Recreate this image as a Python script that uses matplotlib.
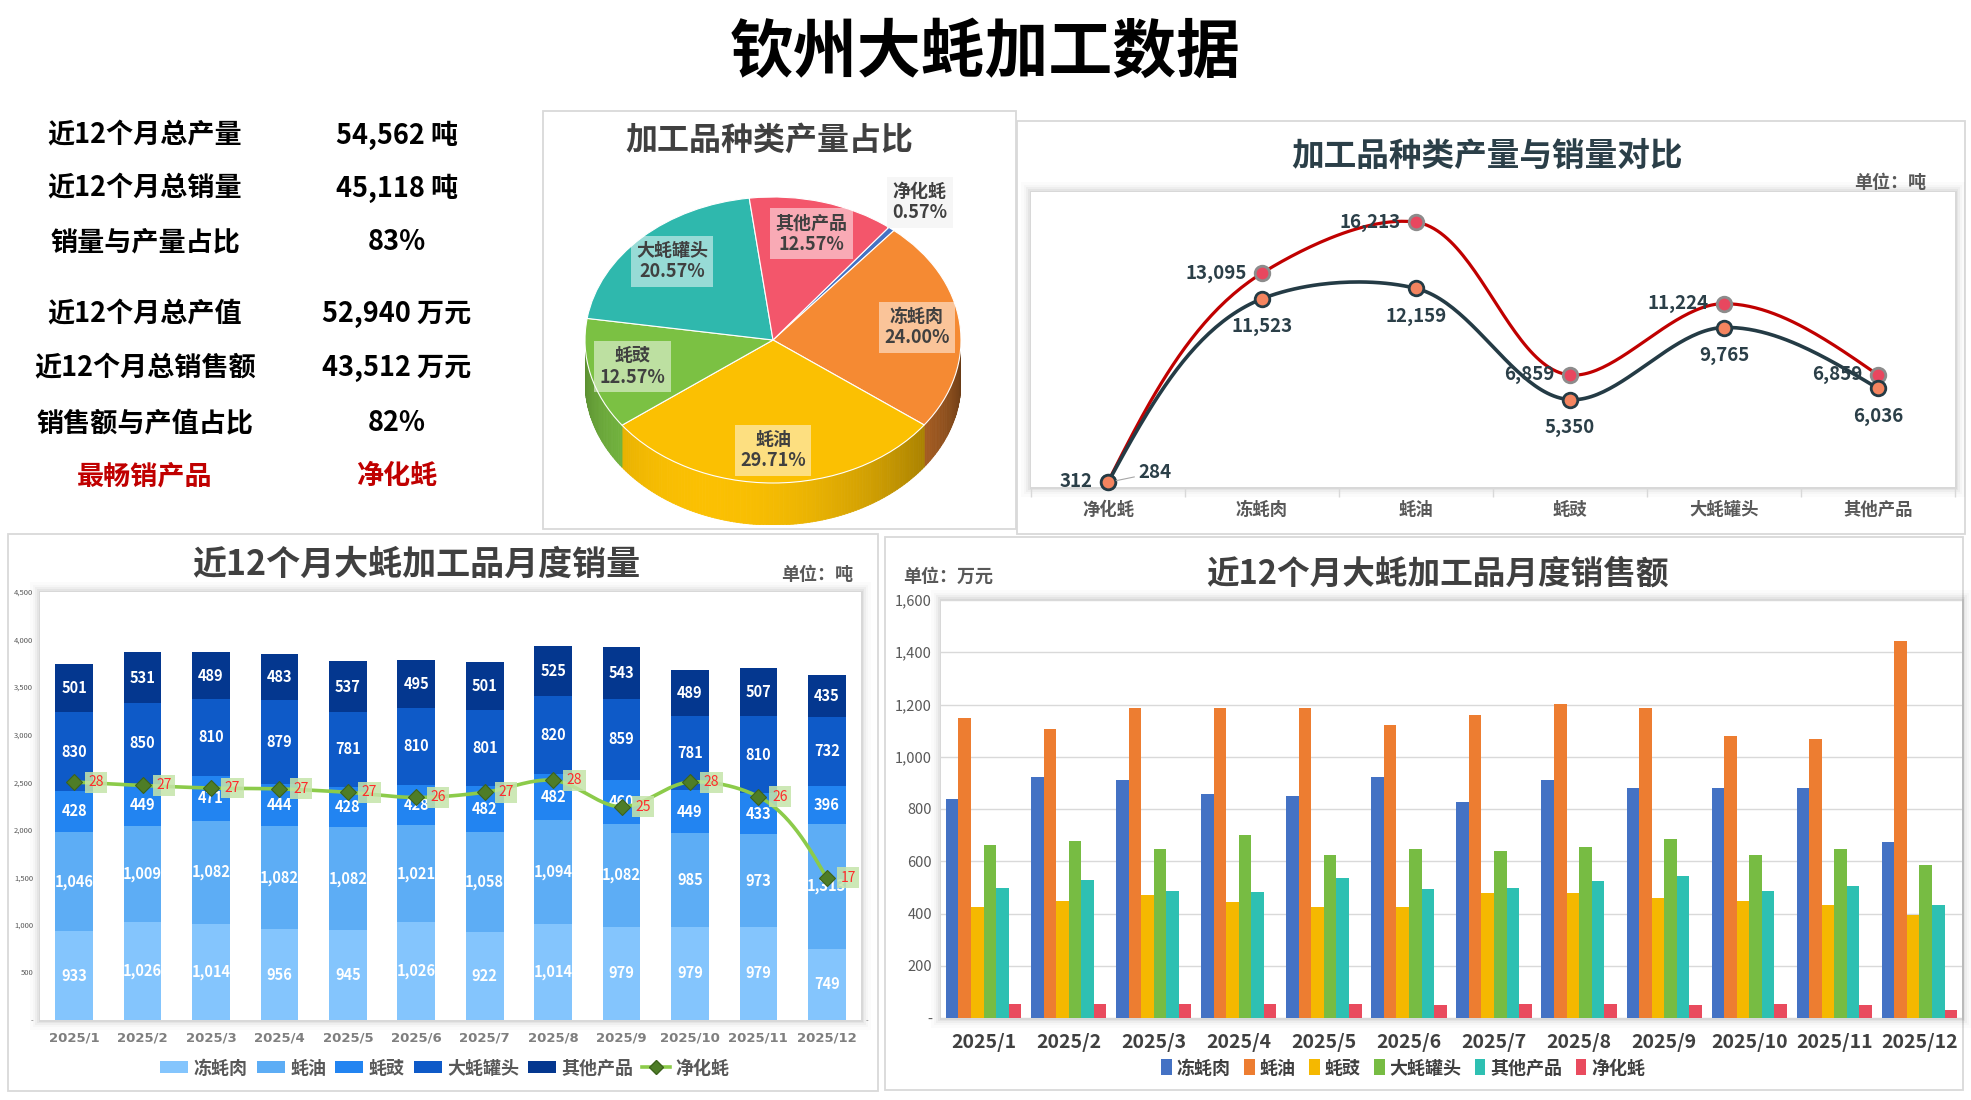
import numpy as np
import matplotlib
matplotlib.use('Agg')
import matplotlib.pyplot as plt
from matplotlib.patches import Rectangle, Patch
from matplotlib.collections import PolyCollection
from matplotlib.lines import Line2D
from matplotlib.colors import to_rgb

plt.rcParams['font.family'] = ['Noto Sans CJK SC', 'DejaVu Sans']
plt.rcParams['axes.unicode_minus'] = False

# ---------------- data ----------------
main_title = '钦州大蚝加工数据'
kpi_labels = ['近12个月总产量', '近12个月总销量', '销量与产量占比',
              '近12个月总产值', '近12个月总销售额', '销售额与产值占比', '最畅销产品']
kpi_values = ['54,562 吨', '45,118 吨', '83%', '52,940 万元', '43,512 万元', '82%', '净化蚝']

products = ['净化蚝', '冻蚝肉', '蚝油', '蚝豉', '大蚝罐头', '其他产品']
production = [312, 13095, 16213, 6859, 11224, 6859]
sales = [284, 11523, 12159, 5350, 9765, 6036]
pie_pct = [0.57, 24.00, 29.71, 12.57, 20.57, 12.57]

months = ['2025/1', '2025/2', '2025/3', '2025/4', '2025/5', '2025/6',
          '2025/7', '2025/8', '2025/9', '2025/10', '2025/11', '2025/12']

stack_names = ['冻蚝肉', '蚝油', '蚝豉', '大蚝罐头', '其他产品']
qty_dongrou = [933, 1026, 1014, 956, 945, 1026, 922, 1014, 979, 979, 979, 749]
qty_haoyou = [1046, 1009, 1082, 1082, 1082, 1021, 1058, 1094, 1082, 985, 973, 1313]
qty_haochi = [428, 449, 471, 444, 428, 428, 482, 482, 460, 449, 433, 396]
qty_guantou = [830, 850, 810, 879, 781, 810, 801, 820, 859, 781, 810, 732]
qty_qita = [501, 531, 489, 483, 537, 495, 501, 525, 543, 489, 507, 435]
qty_jinghua = [27.8, 27.4, 27.1, 27.0, 26.6, 26.0, 26.6, 28.0, 24.9, 27.8, 26.1, 16.6]

rev_names = ['冻蚝肉', '蚝油', '蚝豉', '大蚝罐头', '其他产品', '净化蚝']
rev_dongrou = [838, 922, 911, 857, 849, 922, 826, 911, 880, 880, 880, 673]
rev_haoyou = [1148, 1106, 1186, 1186, 1186, 1121, 1160, 1202, 1186, 1079, 1068, 1443]
rev_haochi = [424, 447, 470, 443, 424, 424, 478, 478, 458, 447, 432, 393]
rev_guantou = [662, 677, 646, 700, 623, 646, 639, 654, 685, 623, 646, 585]
rev_qita = [497, 527, 485, 481, 535, 493, 497, 524, 543, 485, 504, 432]
rev_jinghua = [52, 52, 52, 52, 52, 49, 52, 52, 49, 52, 49, 29]

# ---------------- figure ----------------
W, H = 1971, 1100
fig = plt.figure(figsize=(W / 100, H / 100), dpi=100)
fig.patch.set_facecolor('white')


def px_axes(x0, y0, x1, y1, **kw):
    return fig.add_axes([x0 / W, 1 - y1 / H, (x1 - x0) / W, (y1 - y0) / H], **kw)


bg = px_axes(0, 0, W, H)
bg.set_xlim(0, W)
bg.set_ylim(H, 0)
bg.axis('off')


def panel(x0, y0, x1, y1):
    bg.add_patch(Rectangle((x0, y0), x1 - x0, y1 - y0, fill=False, ec='#D9D9D9', lw=1.3))


def plot_box(x0, y0, x1, y1):
    for k, a in [(10, 0.015), (7, 0.02), (5, 0.03), (3, 0.04), (1.5, 0.05)]:
        bg.add_patch(Rectangle((x0 - k, y0 - k), x1 - x0 + 2 * k, y1 - y0 + 2 * k,
                               fc='black', ec='none', alpha=a))
    bg.add_patch(Rectangle((x0, y0), x1 - x0, y1 - y0, fc='white', ec='none'))


def smooth(xs, ys, sx_px, sy_px, n=50):
    """Chord-length weighted Bezier smoothing computed in screen-pixel space."""
    P = np.column_stack([np.asarray(xs, float) * sx_px, np.asarray(ys, float) * sy_px])
    m = len(P)
    d = np.diff(P, axis=0)
    L = np.hypot(d[:, 0], d[:, 1])
    U = d / L[:, None]
    T = np.zeros_like(P)
    for i in range(1, m - 1):
        a, b = L[i - 1], L[i]
        T[i] = (b / (a + b)) * U[i - 1] + (a / (a + b)) * U[i]
    T[0] = 1.5 * U[0] - 0.5 * T[1] if m > 2 else U[0]
    T[-1] = 1.5 * U[-1] - 0.5 * T[-2] if m > 2 else U[-1]
    out = []
    for i in range(m - 1):
        p1, p2 = P[i], P[i + 1]
        c1 = p1 + T[i] * L[i] / 3
        c2 = p2 - T[i + 1] * L[i] / 3
        t = np.linspace(0, 1, n)[:, None]
        seg = (1 - t) ** 3 * p1 + 3 * (1 - t) ** 2 * t * c1 + 3 * (1 - t) * t ** 2 * c2 + t ** 3 * p2
        out.append(seg if i == 0 else seg[1:])
    S = np.vstack(out)
    return S[:, 0] / sx_px, S[:, 1] / sy_px


# ---------------- main title & KPI ----------------
bg.text(985, 53, main_title, fontsize=46, fontweight='heavy', ha='center', va='center', color='black')
kpi_y = [135, 188, 242, 314, 368, 423, 476]
for i, (lab, val) in enumerate(zip(kpi_labels, kpi_values)):
    c = '#C00000' if i == len(kpi_labels) - 1 else 'black'
    bg.text(145, kpi_y[i], lab, fontsize=19.5, fontweight='heavy', ha='center', va='center', color=c)
    bg.text(397, kpi_y[i], val, fontsize=19.5, fontweight='heavy', ha='center', va='center', color=c)

# ---------------- panels ----------------
panel(543, 111, 1016, 529)
panel(1017, 121, 1965, 534)
panel(8, 534, 878, 1091)
panel(885, 537, 1963, 1090)

plot_box(1031, 192, 1955, 487)
plot_box(40, 592, 861, 1020)
plot_box(941, 600, 1962, 1018)

# ---------------- pie ----------------
bg.text(769, 141, '加工品种类产量占比', fontsize=23, fontweight='bold', ha='center', va='center', color='#404040')
pie_colors = ['#4472C4', '#F58A33', '#FBC002', '#7BC143', '#2FB8AD', '#F3566B']
axp = px_axes(585, 197, 961, 525)
wedges, _ = axp.pie(pie_pct, colors=pie_colors, startangle=52, counterclock=False, radius=1,
                    wedgeprops=dict(edgecolor='white', linewidth=0.8))
depth = 42 / 143
axp.set_aspect('auto')
axp.set_xlim(-1, 1)
axp.set_ylim(-1 - depth, 1)
axp.axis('off')


def shade(deg):
    return 0.22 + 0.78 * ((1 + np.cos(np.deg2rad(deg + 110))) / 2) ** 1.2


verts, cols = [], []
for wdg, col in zip(wedges, pie_colors):
    t1, t2 = wdg.theta1, wdg.theta2
    n = max(2, int((t2 - t1) / 1.0) + 1)
    ts = np.linspace(t1, t2, n)
    for a, b in zip(ts[:-1], ts[1:]):
        mdeg = (a + b) / 2
        if np.sin(np.deg2rad(mdeg)) >= 0:
            continue
        ra, rb = np.deg2rad([a, b])
        verts.append([(np.cos(ra), np.sin(ra)), (np.cos(rb), np.sin(rb)),
                      (np.cos(rb), np.sin(rb) - depth), (np.cos(ra), np.sin(ra) - depth)])
        cols.append(np.clip(np.array(to_rgb(col)) * shade(mdeg), 0, 1))
axp.add_collection(PolyCollection(verts, facecolors=cols, edgecolors=cols, linewidths=0.6, zorder=0.5))

for wdg, p, name in zip(wedges, pie_pct, products):
    mid = np.deg2rad((wdg.theta1 + wdg.theta2) / 2)
    outside = p < 2
    r = 1.24 if outside else 0.77
    axp.text(r * np.cos(mid), r * np.sin(mid), f'{name}\n{p:.2f}%', ha='center', va='center',
             fontsize=13, fontweight='heavy', color='#404040', linespacing=1.15, clip_on=False, zorder=5,
             bbox=dict(boxstyle='square,pad=0.3', fc='#F5F5F5' if outside else 'white',
                       ec='none', alpha=0.9 if outside else 0.5))

# ---------------- production vs sales line chart ----------------
bg.text(1487, 156, '加工品种类产量与销量对比', fontsize=23.5, fontweight='bold', ha='center', va='center', color='#2B3F48')
bg.text(1890, 182, '单位：吨', fontsize=13, fontweight='bold', ha='center', va='center', color='#595959')
AX4 = (1031, 193, 1955, 487)
ax4 = px_axes(*AX4)
ax4.set_facecolor('none')
xs = np.arange(len(products))
ax4.set_xlim(-0.5, len(products) - 0.5)
ax4.set_ylim(0, 18000)
sx4 = (AX4[2] - AX4[0]) / len(products)
sy4 = (AX4[3] - AX4[1]) / 18000
cx, cy = smooth(xs, production, sx4, sy4)
ax4.plot(cx, cy, color='#C00000', lw=2.3, zorder=3)
ax4.plot(xs, production, 'o', ms=10.5, mfc='#E8475F', mec='#8C8C8C', mew=2, zorder=4, clip_on=False)
cx, cy = smooth(xs, sales, sx4, sy4)
ax4.plot(cx, cy, color='#243B45', lw=2.6, zorder=5)
ax4.plot(xs, sales, 'o', ms=10.5, mfc='#F4845F', mec='#243B45', mew=2, zorder=6, clip_on=False)
for i, v in enumerate(production):
    ax4.annotate(f'{v:,}', (i, v), xytext=(-11, 0), textcoords='offset points', ha='right', va='center',
                 fontsize=13.5, fontweight='bold', color='#2B3F48', zorder=7, annotation_clip=False)
for i, v in enumerate(sales):
    if v < 1000:
        ax4.annotate(f'{v:,}', (i, v), xytext=(22, 7), textcoords='offset points', ha='left', va='center',
                     fontsize=13.5, fontweight='bold', color='#2B3F48', zorder=7, annotation_clip=False,
                     arrowprops=dict(arrowstyle='-', color='#A6A6A6', lw=0.8, shrinkA=1, shrinkB=6))
    else:
        ax4.annotate(f'{v:,}', (i, v), xytext=(0, -20), textcoords='offset points', ha='center', va='center',
                     fontsize=13.5, fontweight='bold', color='#2B3F48', zorder=7, annotation_clip=False)
for s in ax4.spines.values():
    s.set_visible(False)
ax4.set_yticks([])
ax4.set_xticks(xs)
ax4.set_xticklabels(products, fontsize=12.5, fontweight='bold', color='#595959')
ax4.set_xticks(np.arange(-0.5, len(products), 1), minor=True)
ax4.tick_params(axis='x', which='major', length=0, pad=10)
ax4.tick_params(axis='x', which='minor', length=7, color='#D9D9D9', width=1)

# ---------------- monthly sales quantity (stacked) ----------------
bg.text(416, 564, '近12个月大蚝加工品月度销量', fontsize=24.5, fontweight='bold', ha='center', va='center', color='#404040')
bg.text(817, 574, '单位：吨', fontsize=13, fontweight='bold', ha='center', va='center', color='#595959')
AX1 = (40, 592, 861, 1020)
ax1 = px_axes(*AX1)
ax1.set_facecolor('none')
x = np.arange(len(months))
stack_vals = [qty_dongrou, qty_haoyou, qty_haochi, qty_guantou, qty_qita]
stack_colors = ['#84C5FD', '#5DADF5', '#2284F1', '#0E5AC8', '#04378F']
bottom = np.zeros(len(months))
for vals, col in zip(stack_vals, stack_colors):
    vals = np.asarray(vals, float)
    ax1.bar(x, vals, 0.55, bottom=bottom, color=col, zorder=2)
    for i in range(len(months)):
        ax1.text(x[i], bottom[i] + vals[i] / 2, f'{int(vals[i]):,}', ha='center', va='center',
                 fontsize=10.5, fontweight='bold', color='white', zorder=3)
    bottom += vals
ax1.set_xlim(-0.5, len(months) - 0.5)
ax1.set_ylim(0, 4500)
ax1.set_yticks(np.arange(0, 4501, 500))
ax1.set_yticklabels(['-' if v == 0 else f'{v:,}' for v in range(0, 4501, 500)])
ax1.tick_params(axis='y', length=0, labelsize=5.5, labelcolor='#595959', pad=5)
ax1.set_xticks(x)
ax1.set_xticklabels(months, fontsize=9.5, fontweight='bold', color='#7F7F7F', family='DejaVu Sans')
ax1.tick_params(axis='x', length=0, pad=8.5)
for s in ax1.spines.values():
    s.set_visible(False)

ax2 = ax1.twinx()
ax2.set_ylim(0, 50)
sx1 = (AX1[2] - AX1[0]) / len(months)
sy1 = (AX1[3] - AX1[1]) / 50
cx, cy = smooth(x, qty_jinghua, sx1, sy1)
ax2.plot(cx, cy, color='#8CCB4A', lw=2.6, zorder=4)
ax2.plot(x, qty_jinghua, 'D', ms=8, mfc='#4E7D27', mec='#3C621C', mew=0.8, zorder=5)
for i, v in enumerate(qty_jinghua):
    ax2.annotate(f'{v:.0f}', (i, v), xytext=(15.5, 0), textcoords='offset points', ha='center', va='center',
                 fontsize=10, color='#FF2B2B', zorder=6,
                 bbox=dict(boxstyle='square,pad=0.25', fc='#C5E4AA', ec='none', alpha=0.85))
ax2.set_yticks([0])
ax2.set_yticklabels(['-'])
ax2.tick_params(axis='y', length=0, labelsize=5.5, labelcolor='#595959', pad=3)
for s in ax2.spines.values():
    s.set_visible(False)

h1 = [Patch(fc=c, ec='none') for c in stack_colors]
h1.append(Line2D([0], [0], color='#8CCB4A', lw=2.6, marker='D', ms=7, mfc='#4E7D27', mec='#3C621C'))
leg1 = ax1.legend(h1, stack_names + ['净化蚝'], loc='center', bbox_to_anchor=(445 / W, 1 - 1068 / H),
                  bbox_transform=fig.transFigure, ncol=6, frameon=False,
                  prop={'size': 13, 'weight': 'bold'}, handlelength=1.55, handleheight=0.67,
                  handletextpad=0.3, columnspacing=0.5)
for t in leg1.get_texts():
    t.set_color('#595959')

# ---------------- monthly revenue (grouped) ----------------
bg.text(1437, 574, '近12个月大蚝加工品月度销售额', fontsize=23.5, fontweight='bold', ha='center', va='center', color='#404040')
bg.text(903, 576, '单位：万元', fontsize=13, fontweight='bold', ha='left', va='center', color='#595959')
ax3 = px_axes(941, 600, 1962, 1018)
ax3.set_facecolor('none')
rev_vals = [rev_dongrou, rev_haoyou, rev_haochi, rev_guantou, rev_qita, rev_jinghua]
rev_colors = ['#4472C4', '#ED7D31', '#F5B800', '#77BC43', '#2EC0B2', '#E94B5E']
bw = 0.1475
for j, (vals, col) in enumerate(zip(rev_vals, rev_colors)):
    ax3.bar(x + (j - 2.5) * bw, vals, bw, color=col, zorder=2)
ax3.set_xlim(-0.5, len(months) - 0.5)
ax3.set_ylim(0, 1600)
ax3.set_yticks(np.arange(0, 1601, 200))
ax3.set_yticklabels(['-' if v == 0 else f'{v:,}' for v in range(0, 1601, 200)])
ax3.yaxis.grid(True, color='#D9D9D9', lw=1)
ax3.set_axisbelow(True)
ax3.tick_params(axis='y', length=0, labelsize=10.5, labelcolor='#595959', pad=6.5)
ax3.set_xticks(x)
ax3.set_xticklabels(months, fontsize=14, fontweight='bold', color='#404040')
ax3.tick_params(axis='x', length=0, pad=11)
for s in ax3.spines.values():
    s.set_visible(False)
h3 = [Patch(fc=c, ec='none') for c in rev_colors]
leg3 = ax3.legend(h3, rev_names, loc='center', bbox_to_anchor=(1403 / W, 1 - 1068 / H),
                  bbox_transform=fig.transFigure, ncol=6, frameon=False,
                  prop={'size': 13, 'weight': 'bold'}, handlelength=0.6, handleheight=1.0,
                  handletextpad=0.25, columnspacing=0.75)
for t in leg3.get_texts():
    t.set_color('#404040')

fig.savefig('out.png', dpi=100, facecolor='white')
